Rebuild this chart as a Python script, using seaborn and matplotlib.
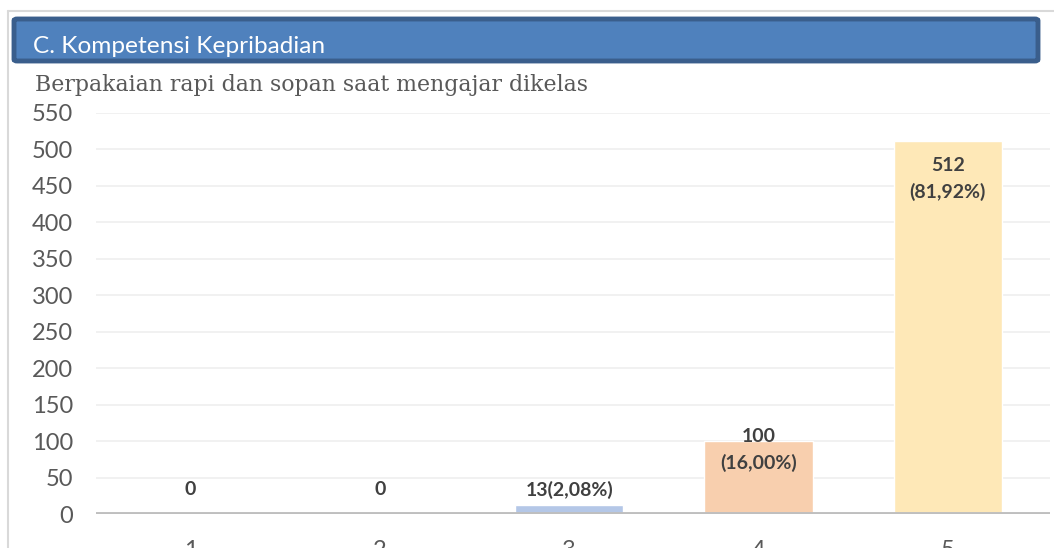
import matplotlib
matplotlib.use("Agg")
import matplotlib.pyplot as plt
import seaborn as sns
import pandas as pd
from matplotlib.patches import FancyBboxPatch
from matplotlib.lines import Line2D

# Data
categories = ["1", "2", "3", "4", "5"]
counts = [0, 0, 13, 100, 512]
value_labels = ["0", "0", "13(2,08%)", "100\n(16,00%)", "512\n(81,92%)"]
bar_colors = ["#B4C7E7", "#B4C7E7", "#B4C7E7", "#F8CFAE", "#FEE8B7"]
y_ticks = list(range(0, 551, 50))

# where each label sits (data units), as in the original
label_y = [33, 33, 33, 88, 459.5]

sns.set_style("white")
plt.rcParams["font.family"] = ["Lato", "DejaVu Sans"]

df = pd.DataFrame({"cat": categories, "count": counts})

fig = plt.figure(figsize=(10.54, 5.48), dpi=100)
ax = fig.add_axes([96 / 1054, 0.062, 954 / 1054, 0.7318])

sns.barplot(data=df, x="cat", y="count", hue="cat", palette=bar_colors,
            legend=False, width=0.571, ax=ax, saturation=1)

ax.set_ylim(0, 550)
ax.set_xlim(-0.5, 4.54)
ax.set_yticks(y_ticks)
ax.set_xlabel("")
ax.set_ylabel("")
ax.grid(axis="y", color="#EFEFEF", linewidth=1.2)
ax.set_axisbelow(True)
for s in ax.spines.values():
    s.set_visible(False)
ax.axhline(0, color="#BFBFBF", linewidth=2.8, zorder=3)
ax.tick_params(axis="both", length=0, labelsize=17, labelcolor="#595959")
ax.tick_params(axis="y", pad=16.5)
ax.tick_params(axis="x", pad=18.5)

for i, txt in enumerate(value_labels):
    ax.text(i, label_y[i], txt, ha="center", va="center", fontsize=14,
            fontweight="bold", color="#404040", linespacing=1.6, zorder=4)

# outer frame lines
fig.add_artist(Line2D([8 / 1054, 1.0], [1 - 11 / 548, 1 - 11 / 548],
                      transform=fig.transFigure, color="#D9D9D9", linewidth=1.5))
fig.add_artist(Line2D([8 / 1054, 8 / 1054], [0, 1 - 11 / 548],
                      transform=fig.transFigure, color="#D9D9D9", linewidth=1.5))

# title banner
banner = FancyBboxPatch((14 / 1054, 1 - 61 / 548), 1024 / 1054, 42 / 548,
                        boxstyle="round,pad=0,rounding_size=0.003",
                        transform=fig.transFigure, facecolor="#4F81BD",
                        edgecolor="#3A5E8C", linewidth=3.5)
fig.add_artist(banner)
fig.text(33 / 1054, 1 - 53 / 548, "C. Kompetensi Kepribadian", color="white",
         fontsize=17.6, ha="left", va="baseline")
fig.text(35 / 1054, 1 - 91 / 548, "Berpakaian rapi dan sopan saat mengajar dikelas",
         color="#595959", fontsize=15.8, ha="left", va="baseline",
         family=["DejaVu Serif"])

fig.savefig("out.png", dpi=100)
